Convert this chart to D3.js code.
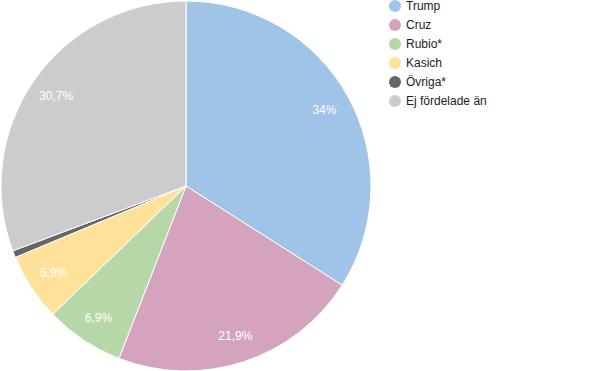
<!DOCTYPE html>
<html>
<head>
<meta charset="utf-8">
<script src="https://cdn.jsdelivr.net/npm/d3@7"></script>
<style>
  body { margin: 0; background: #fff; }
  svg { font-family: "Liberation Sans", Arial, sans-serif; }
</style>
</head>
<body>
<svg width="600" height="371"></svg>
<script>
const names = ['Trump', 'Cruz', 'Rubio*', 'Kasich', 'Övriga*', 'Ej fördelade än'];
const values = [34, 21.9, 6.9, 5.9, 0.6, 30.7];
const labels = ['34%', '21,9%', '6,9%', '5,9%', '', '30,7%'];
const colors = ['#a0c4e8', '#d4a4bf', '#b6d7a8', '#ffe199', '#666666', '#cccccc'];

const svg = d3.select('svg');
const cx = 186, cy = 186, r = 185;

const pie = d3.pie().sort(null).value(d => d.value);
const arc = d3.arc().innerRadius(0).outerRadius(r);
const labelArc = d3.arc().innerRadius(158).outerRadius(158);

const data = names.map((n, i) => ({ name: n, value: values[i], label: labels[i], color: colors[i] }));

const g = svg.append('g').attr('transform', `translate(${cx},${cy})`);

g.selectAll('path.slice')
    .data(pie(data))
    .enter().append('path')
    .attr('class', 'slice')
    .attr('d', arc)
    .attr('fill', d => d.data.color)
    .attr('stroke', '#fff')
    .attr('stroke-width', 1);

g.selectAll('text.lbl')
    .data(pie(data))
    .enter().append('text')
    .attr('class', 'lbl')
    .attr('transform', d => `translate(${labelArc.centroid(d)})`)
    .attr('text-anchor', 'middle')
    .attr('dy', '0.35em')
    .attr('fill', '#fff')
    .style('font-size', '12px')
    .text(d => d.data.label);

// legend
const legend = svg.append('g').attr('transform', 'translate(395,6)');
const item = legend.selectAll('g')
    .data(data)
    .enter().append('g')
    .attr('transform', (d, i) => `translate(0,${i * 19})`);

item.append('circle')
    .attr('r', 6)
    .attr('fill', d => d.color);

item.append('text')
    .attr('x', 11)
    .attr('dy', '0.35em')
    .attr('fill', '#222')
    .style('font-size', '12px')
    .text(d => d.name);
</script>
</body>
</html>
